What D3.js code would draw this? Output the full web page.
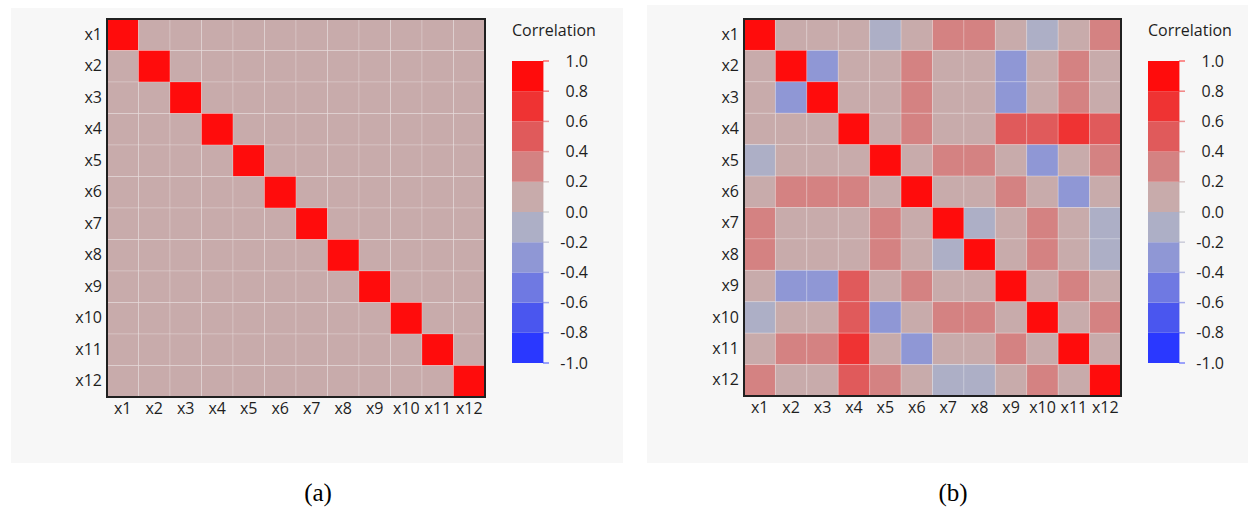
<!DOCTYPE html>
<html>
<head>
<meta charset="utf-8">
<script src="https://cdn.jsdelivr.net/npm/d3@7"></script>
<style>
  html, body { margin: 0; padding: 0; background: #ffffff; }
  svg { display: block; }
  text { font-family: "Open Sans", "Noto Sans", sans-serif; fill: #1e1e1e; }
  .caption { font-family: "Liberation Serif", "DejaVu Serif", serif; fill: #000; }
</style>
</head>
<body>
<svg id="chart" width="1248" height="512"></svg>
<script>
// Variable names shown on both axes
const variables = ["x1", "x2", "x3", "x4", "x5", "x6", "x7", "x8", "x9", "x10", "x11", "x12"];

// (a) uncorrelated inputs
const corrIndependent = [
  [1, 0, 0, 0, 0, 0, 0, 0, 0, 0, 0, 0],
  [0, 1, 0, 0, 0, 0, 0, 0, 0, 0, 0, 0],
  [0, 0, 1, 0, 0, 0, 0, 0, 0, 0, 0, 0],
  [0, 0, 0, 1, 0, 0, 0, 0, 0, 0, 0, 0],
  [0, 0, 0, 0, 1, 0, 0, 0, 0, 0, 0, 0],
  [0, 0, 0, 0, 0, 1, 0, 0, 0, 0, 0, 0],
  [0, 0, 0, 0, 0, 0, 1, 0, 0, 0, 0, 0],
  [0, 0, 0, 0, 0, 0, 0, 1, 0, 0, 0, 0],
  [0, 0, 0, 0, 0, 0, 0, 0, 1, 0, 0, 0],
  [0, 0, 0, 0, 0, 0, 0, 0, 0, 1, 0, 0],
  [0, 0, 0, 0, 0, 0, 0, 0, 0, 0, 1, 0],
  [0, 0, 0, 0, 0, 0, 0, 0, 0, 0, 0, 1]
];

// (b) correlated inputs
const corrCoupled = [
  [ 1.00,  0.05,  0.04,  0.08, -0.12,  0.06,  0.30,  0.30,  0.05, -0.10,  0.08,  0.30],
  [ 0.05,  1.00, -0.30,  0.10,  0.06,  0.30,  0.08,  0.08, -0.30,  0.05,  0.30,  0.06],
  [ 0.04, -0.30,  1.00,  0.10,  0.06,  0.30,  0.08,  0.08, -0.30,  0.05,  0.30,  0.06],
  [ 0.08,  0.10,  0.10,  1.00,  0.06,  0.30,  0.10,  0.10,  0.50,  0.50,  0.65,  0.50],
  [-0.12,  0.06,  0.06,  0.06,  1.00,  0.10,  0.30,  0.30,  0.08, -0.30,  0.08,  0.30],
  [ 0.06,  0.30,  0.30,  0.30,  0.10,  1.00,  0.08,  0.08,  0.30,  0.06, -0.30,  0.08],
  [ 0.30,  0.08,  0.08,  0.10,  0.30,  0.08,  1.00, -0.10,  0.08,  0.30,  0.06, -0.10],
  [ 0.30,  0.08,  0.08,  0.10,  0.30,  0.08, -0.10,  1.00,  0.08,  0.30,  0.06, -0.10],
  [ 0.05, -0.30, -0.30,  0.50,  0.08,  0.30,  0.08,  0.08,  1.00,  0.08,  0.30,  0.06],
  [-0.10,  0.05,  0.05,  0.50, -0.30,  0.06,  0.30,  0.30,  0.08,  1.00,  0.06,  0.30],
  [ 0.08,  0.30,  0.30,  0.65,  0.08, -0.30,  0.06,  0.06,  0.30,  0.06,  1.00,  0.06],
  [ 0.30,  0.06,  0.06,  0.50,  0.30,  0.08, -0.10, -0.10,  0.06,  0.30,  0.06,  1.00]
];

// Colour bins of the legend (upper edges -0.8 … 0.8), from -1 up to 1
const binEdges = [-0.8, -0.6, -0.4, -0.2, 0.0, 0.2, 0.4, 0.6, 0.8];
const binColours = ["#2a38ff", "#4a56ef", "#6f79e2", "#8f97d5", "#adafc6",
                    "#c8abab", "#d48282", "#e05a5b", "#ef3333", "#ff0c0c"];
const legendTicks = [1.0, 0.8, 0.6, 0.4, 0.2, 0.0, -0.2, -0.4, -0.6, -0.8, -1.0];
const legendTitle = "Correlation";
const captions = ["(a)", "(b)"];

const colour = d3.scaleThreshold().domain(binEdges).range(binColours);
// plain hyphen for negative values
const tickFormat = v => d3.format(".1f")(v).replace("\u2212", "-");

const svg = d3.select("#chart");

function drawPanel(cfg) {
  const g = svg.append("g");

  // panel background
  g.append("rect")
    .attr("x", cfg.bg[0]).attr("y", cfg.bg[1])
    .attr("width", cfg.bg[2]).attr("height", cfg.bg[3])
    .attr("fill", "#f7f7f7");

  const x = d3.scaleBand().domain(variables).range([cfg.left, cfg.left + cfg.size]);
  const y = d3.scaleBand().domain(variables).range([cfg.top, cfg.top + cfg.size]);

  const cells = [];
  cfg.matrix.forEach((row, i) => row.forEach((v, j) => cells.push({ r: variables[i], c: variables[j], v })));

  g.append("g").selectAll("rect").data(cells).join("rect")
    .attr("x", d => x(d.c)).attr("y", d => y(d.r))
    .attr("width", x.bandwidth()).attr("height", y.bandwidth())
    .attr("fill", d => colour(d.v))
    .attr("stroke", "rgba(255,255,255,0.2)")
    .attr("stroke-width", 1);

  // frame
  g.append("rect")
    .attr("x", cfg.left).attr("y", cfg.top)
    .attr("width", cfg.size).attr("height", cfg.size)
    .attr("fill", "none").attr("stroke", "#202020").attr("stroke-width", 2);

  // row labels
  const yAxis = g.append("g")
    .attr("transform", `translate(${cfg.left},0)`)
    .call(d3.axisLeft(y).tickSize(0).tickPadding(5));
  yAxis.select(".domain").remove();
  yAxis.selectAll("text").attr("font-size", 16).attr("fill", "#1e1e1e")
    .style("font-family", "'Open Sans', sans-serif");

  // column labels
  const xAxis = g.append("g")
    .attr("transform", `translate(0,${cfg.top + cfg.size})`)
    .call(d3.axisBottom(x).tickSize(0).tickPadding(6));
  xAxis.select(".domain").remove();
  xAxis.selectAll("text").attr("font-size", 16).attr("fill", "#1e1e1e")
    .style("font-family", "'Open Sans', sans-serif");

  // legend
  const lx = cfg.left + cfg.size + 27;
  const barW = 31;
  const ly = d3.scaleLinear().domain([1, -1]).range([61, 363]);

  g.append("text")
    .attr("x", lx).attr("y", 36)
    .attr("font-size", 16)
    .text(legendTitle);

  const bins = binColours.map((c, k) => ({
    lo: k === 0 ? -1 : binEdges[k - 1],
    hi: k === binColours.length - 1 ? 1 : binEdges[k],
    c
  }));

  const lg = g.append("g");
  lg.selectAll("rect").data(bins).join("rect")
    .attr("x", lx).attr("y", d => ly(d.hi))
    .attr("width", barW).attr("height", d => ly(d.lo) - ly(d.hi))
    .attr("fill", d => d.c);

  // axis spine beside the bar, coloured per bin
  lg.selectAll("line.spine").data(bins).join("line")
    .attr("class", "spine")
    .attr("x1", lx + barW).attr("x2", lx + barW)
    .attr("y1", d => ly(d.hi)).attr("y2", d => ly(d.lo))
    .attr("stroke", d => d.c).attr("stroke-opacity", 0.55).attr("stroke-width", 1.5);

  lg.selectAll("line.tick").data(legendTicks).join("line")
    .attr("class", "tick")
    .attr("x1", lx + barW).attr("x2", lx + barW + 6)
    .attr("y1", d => ly(d)).attr("y2", d => ly(d))
    .attr("stroke", d => d === 0 ? "#b8b8b8" : colour(d > 0 ? d - 0.1 : d + 0.1))
    .attr("stroke-opacity", 0.6).attr("stroke-width", 1.5);

  lg.selectAll("text").data(legendTicks).join("text")
    .attr("x", lx + barW + 45).attr("y", d => ly(d))
    .attr("dy", "0.35em")
    .attr("text-anchor", "end")
    .attr("font-size", 16)
    .text(tickFormat);

  g.append("text")
    .attr("class", "caption")
    .attr("x", cfg.captionX).attr("y", 501)
    .attr("text-anchor", "middle")
    .attr("font-size", 25)
    .text(cfg.caption);
}

drawPanel({ matrix: corrIndependent, left: 107, top: 19, size: 378,
            bg: [11, 8, 612, 455], caption: captions[0], captionX: 318 });
drawPanel({ matrix: corrCoupled, left: 744, top: 19, size: 377,
            bg: [647, 5, 601, 458], caption: captions[1], captionX: 953 });
</script>
</body>
</html>
